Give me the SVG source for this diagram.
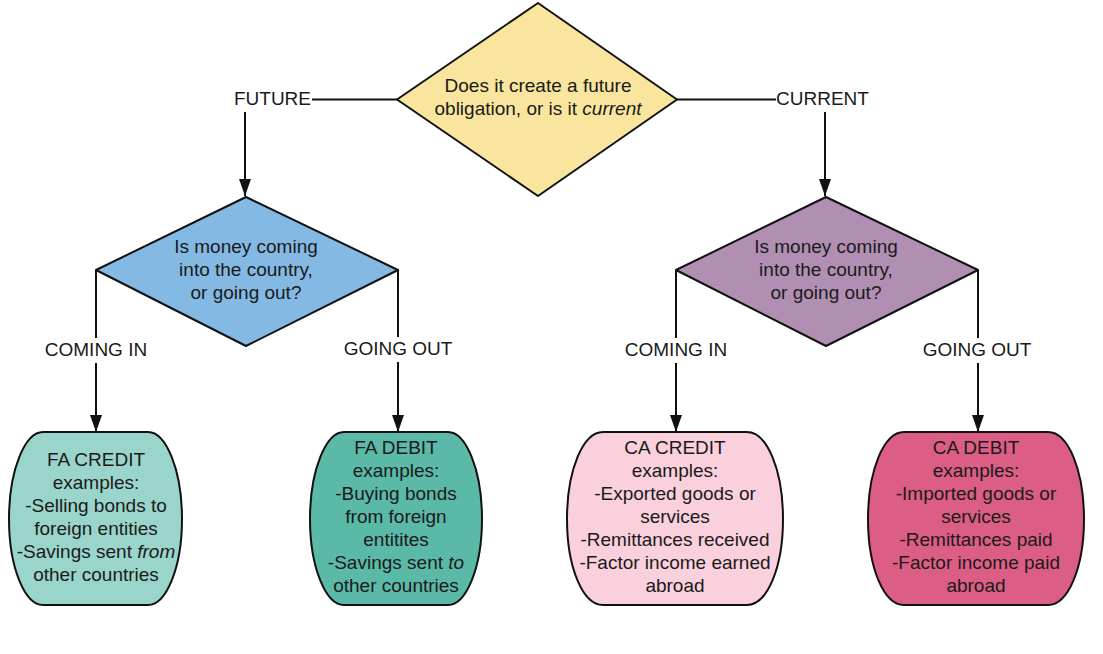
<svg xmlns="http://www.w3.org/2000/svg" width="1103" height="654" viewBox="0 0 1103 654">
<style>
text{font-family:"Liberation Sans",Arial,sans-serif;font-size:19px;fill:#1a1a1a;text-anchor:middle}
.shape{stroke:#111;stroke-width:2;stroke-linejoin:round}
.conn{stroke:#111;stroke-width:2;fill:none}
.it{font-style:italic}
</style>
<defs>
<marker id="ah" markerUnits="userSpaceOnUse" markerWidth="18" markerHeight="12" refX="17" refY="6" orient="auto">
<path d="M0,0 L17,6 L0,12 Z" fill="#111"/>
</marker>
</defs>
<rect width="1103" height="654" fill="#fff"/>
<g id="connectors">
<line class="conn" x1="312" y1="99.5" x2="397" y2="99.5"/>
<line class="conn" x1="677" y1="99.5" x2="776" y2="99.5"/>
<line class="conn" x1="245" y1="112" x2="245" y2="196" marker-end="url(#ah)"/>
<line class="conn" x1="825" y1="112" x2="825" y2="196" marker-end="url(#ah)"/>
<line class="conn" x1="96" y1="270" x2="96" y2="338"/>
<line class="conn" x1="96" y1="363" x2="96" y2="432" marker-end="url(#ah)"/>
<line class="conn" x1="398" y1="270" x2="398" y2="337"/>
<line class="conn" x1="398" y1="362" x2="398" y2="432" marker-end="url(#ah)"/>
<line class="conn" x1="676" y1="270" x2="676" y2="338"/>
<line class="conn" x1="676" y1="363" x2="676" y2="432" marker-end="url(#ah)"/>
<line class="conn" x1="978" y1="270" x2="978" y2="338"/>
<line class="conn" x1="978" y1="363" x2="978" y2="432" marker-end="url(#ah)"/>
<text x="272.5" y="105">FUTURE</text>
<text x="822.5" y="105">CURRENT</text>
<text x="96" y="356">COMING IN</text>
<text x="398" y="355">GOING OUT</text>
<text x="676" y="356">COMING IN</text>
<text x="977" y="356">GOING OUT</text>
</g>
<g id="q-top">
<polygon class="shape" points="538,3 677,99.5 538,196 397,99.5" fill="#F9E59D"/>
<text x="538" y="92">Does it create a future</text>
<text x="538" y="115">obligation, or is it <tspan class="it">current</tspan></text>
</g>
<g id="q-fa">
<polygon class="shape" points="246,197 398,270 246,346 96,270" fill="#83B9E3"/>
<text x="246" y="253">Is money coming</text>
<text x="246" y="276">into the country,</text>
<text x="246" y="299">or going out?</text>
</g>
<g id="q-ca">
<polygon class="shape" points="826,197 978,270 826,346 676,270" fill="#B18FB3"/>
<text x="826" y="253">Is money coming</text>
<text x="826" y="276">into the country,</text>
<text x="826" y="299">or going out?</text>
</g>
<g id="fa-credit">
<path class="shape" fill="#9AD5CB" d="M43,432 H148 C166,432 182,470 182,519 C182,568 166,605 148,605 H43 C25,605 9,568 9,519 C9,470 25,432 43,432 Z"/>
<text x="96" y="466">FA CREDIT</text>
<text x="96" y="489">examples:</text>
<text x="96" y="512">-Selling bonds to</text>
<text x="96" y="535">foreign entities</text>
<text x="96" y="558">-Savings sent <tspan class="it">from</tspan></text>
<text x="96" y="581">other countries</text>
</g>
<g id="fa-debit">
<path class="shape" fill="#5BB9A7" d="M344,432 H448 C466,432 482,470 482,519 C482,568 466,605 448,605 H344 C326,605 310,568 310,519 C310,470 326,432 344,432 Z"/>
<text x="396" y="454">FA DEBIT</text>
<text x="396" y="477">examples:</text>
<text x="396" y="500">-Buying bonds</text>
<text x="396" y="523">from foreign</text>
<text x="396" y="546">entitites</text>
<text x="396" y="569">-Savings sent <tspan class="it">to</tspan></text>
<text x="396" y="592">other countries</text>
</g>
<g id="ca-credit">
<path class="shape" fill="#F9D0DC" d="M603,432 H747 C767,432 783,470 783,519 C783,568 767,605 747,605 H603 C583,605 567,568 567,519 C567,470 583,432 603,432 Z"/>
<text x="675" y="454">CA CREDIT</text>
<text x="675" y="477">examples:</text>
<text x="675" y="500">-Exported goods or</text>
<text x="675" y="523">services</text>
<text x="675" y="546">-Remittances received</text>
<text x="675" y="569">-Factor income earned</text>
<text x="675" y="592">abroad</text>
</g>
<g id="ca-debit">
<path class="shape" fill="#DD5E85" d="M904,432 H1048 C1068,432 1084,470 1084,519 C1084,568 1068,605 1048,605 H904 C884,605 868,568 868,519 C868,470 884,432 904,432 Z"/>
<text x="976" y="454">CA DEBIT</text>
<text x="976" y="477">examples:</text>
<text x="976" y="500">-Imported goods or</text>
<text x="976" y="523">services</text>
<text x="976" y="546">-Remittances paid</text>
<text x="976" y="569">-Factor income paid</text>
<text x="976" y="592">abroad</text>
</g>
</svg>
